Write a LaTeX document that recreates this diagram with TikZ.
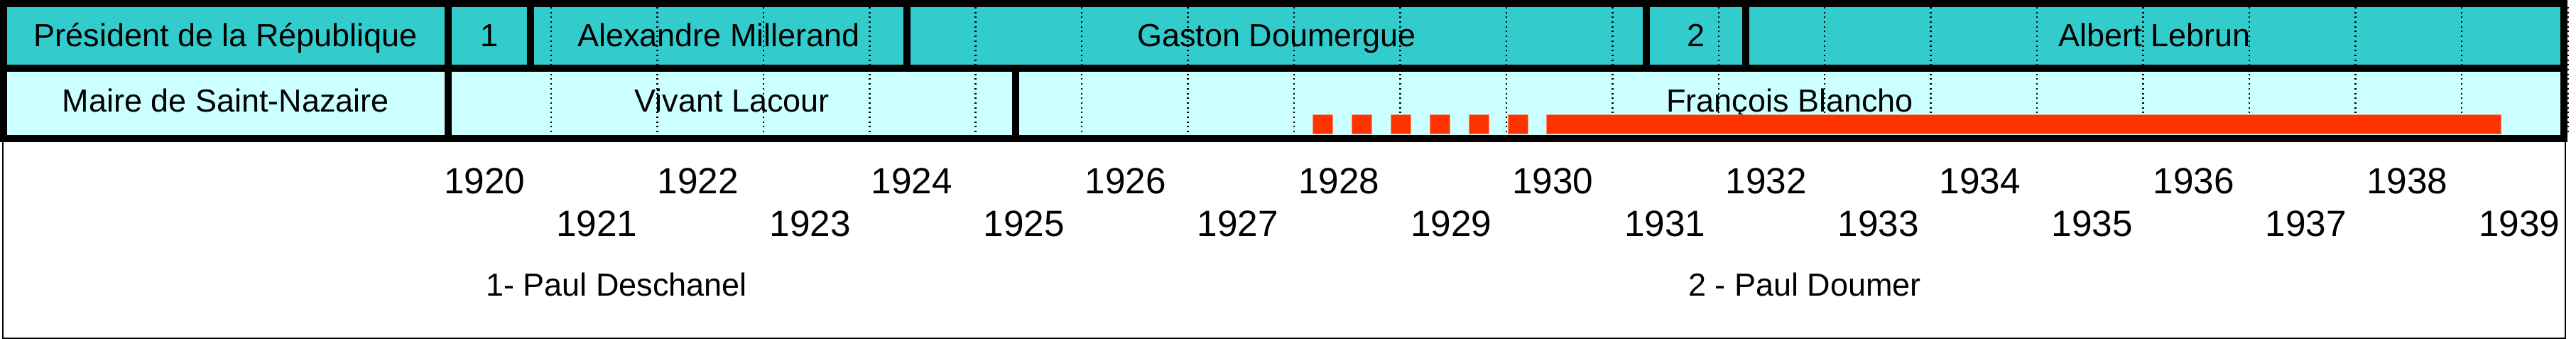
\documentclass[tikz,border=0pt]{standalone}
\usepackage{fontspec}
\setmainfont{Liberation Sans}
\usepackage{tikz}
\definecolor{presteal}{RGB}{51, 204, 204}
\definecolor{mairecyan}{RGB}{204, 255, 255}
\definecolor{mandatred}{RGB}{255, 51, 0}
\definecolor{mandatedge}{RGB}{255, 140, 110}
\tikzset{
    cell/.style={rectangle, draw=black, line width=0.1cm, inner sep=0pt, text centered, font=\fontsize{12.8}{15}\selectfont},
    presrow/.style={cell, fill=presteal, minimum height=0.91cm, text height=0.33cm, text depth=0.02cm},
    mairerow/.style={cell, fill=mairecyan, minimum height=0.99cm, text height=0.27cm, text depth=0.02cm},
    yearline/.style={line width=0.025cm, dash pattern=on 0.02cm off 0.047cm},
    mandat/.style={fill=mandatred, draw=mandatedge, line width=0.01cm},
    yearlabel/.style={anchor=base west, inner sep=0pt, font=\fontsize{14.6}{17}\selectfont},
    note/.style={anchor=base, inner sep=0pt, font=\fontsize{12.8}{15}\selectfont}
}

\begin{document}
\begin{tikzpicture}
    \useasboundingbox (0,0) rectangle (36.27,4.77);
    \draw[line width=0.02cm] (0.04,0.01) rectangle (36.12,4.77);

    % presidents
    \node[presrow, minimum width=6.26cm] (prestitle) at (3.18,4.265) {Président de la République};
    \node[presrow, minimum width=1.16cm] (deschanel) at (6.89,4.265) {1};
    \node[presrow, minimum width=5.30cm] (millerand) at (10.12,4.265) {Alexandre Millerand};
    \node[presrow, minimum width=10.41cm] (doumergue) at (17.975,4.265) {Gaston Doumergue};
    \node[presrow, minimum width=1.40cm] (doumer) at (23.88,4.265) {2};
    \node[presrow, minimum width=11.52cm] (lebrun) at (30.34,4.265) {Albert Lebrun};

    % mayors
    \node[mairerow, minimum width=6.26cm] (mairetitle) at (3.18,3.315) {Maire de Saint-Nazaire};
    \node[mairerow, minimum width=7.99cm] (lacour) at (10.305,3.315) {Vivant Lacour};
    \node[mairerow, minimum width=21.80cm] (blancho) at (25.20,3.315) {François Blancho};

    \foreach \k in {1,...,20}
        \draw[yearline] ({6.265+1.4944*\k},4.67) -- ({6.265+1.4944*\k},2.87);

    \foreach \x in {18.48,19.03,19.58,20.13,20.68,21.23}
        \draw[mandat] (\x,3.15) rectangle ++(0.28,-0.27);
    \draw[mandat] (21.77,3.15) rectangle (35.21,2.88);

    \foreach \yr in {1920,...,1939}{
        \pgfmathsetmacro{\xx}{6.244+1.504*(\yr-1920)+0.076*mod(\yr,2)}
        \pgfmathsetmacro{\yy}{2.04-0.60*mod(\yr,2)}
        \node[yearlabel] (y\yr) at (\xx,\yy) {\yr};
    }

    \node[note] (deschanelnote) at (8.68,0.60) {1- Paul Deschanel};
    \node[note] (doumernote) at (25.41,0.60) {2 - Paul Doumer};
\end{tikzpicture}
\end{document}
